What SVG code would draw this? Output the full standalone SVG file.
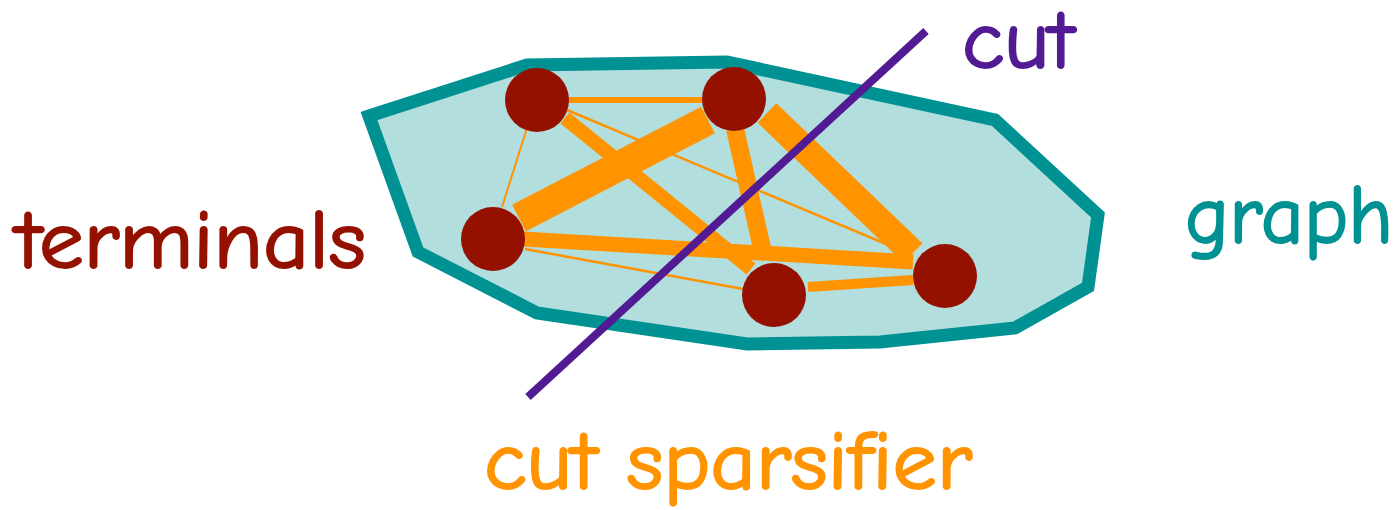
<svg xmlns="http://www.w3.org/2000/svg" width="1398" height="510" viewBox="0 0 1398 510">
<style>
.lbl{font-family:"Comic Sans MS","Comic Neue","Noto Sans",sans-serif;font-size:82px;stroke-width:2;stroke-linejoin:round}
.e{stroke:#ff9300;fill:none;stroke-linecap:butt}
.n{fill:#941100}
</style>
<g id="graph">
<polygon points="369,116 527,65 727,62 995,120 1098,215 1088,287 1015,328 880,342 747,344 537,313 418,252" fill="#b2dedd" stroke="#009193" stroke-width="13" stroke-linejoin="miter"/>
</g>
<g id="connectors">
<line class="e" x1="567" y1="100" x2="703" y2="100" stroke-width="6"/>
<line class="e" x1="527" y1="128" x2="502" y2="207" stroke-width="2"/>
<line class="e" x1="567" y1="110" x2="905" y2="252" stroke-width="2.5"/>
<line class="e" x1="525" y1="249" x2="743" y2="289" stroke-width="2.5"/>
<line class="e" x1="565" y1="118" x2="751" y2="269" stroke-width="14"/>
<line class="e" x1="708" y1="120" x2="519" y2="218" stroke-width="30"/>
<line class="e" x1="735" y1="129" x2="762" y2="248" stroke-width="18"/>
<line class="e" x1="767" y1="113" x2="913" y2="253" stroke-width="27"/>
<line class="e" x1="523" y1="239" x2="913" y2="262" stroke-width="15"/>
<line class="e" x1="808" y1="287" x2="913" y2="280" stroke-width="10"/>
</g>
<g id="n1"><circle class="n" cx="537" cy="100" r="32"/></g>
<g id="n2"><circle class="n" cx="734" cy="99" r="32"/></g>
<g id="n3"><circle class="n" cx="493" cy="239" r="32"/></g>
<g id="n4"><circle class="n" cx="774" cy="295" r="32"/></g>
<g id="n5"><circle class="n" cx="945" cy="276" r="32"/></g>
<g id="cut">
<line x1="926" y1="31" x2="528" y2="397" stroke="#531b93" stroke-width="8"/>
</g>
<g id="labels">
<text class="lbl" x="16" y="268" fill="#941100" stroke="#941100" textLength="350" lengthAdjust="spacingAndGlyphs">terminals</text>
<text class="lbl" x="962" y="68" fill="#531b93" stroke="#531b93" textLength="112" lengthAdjust="spacingAndGlyphs">cut</text>
<text class="lbl" x="1185" y="243" fill="#009193" stroke="#009193" textLength="208" lengthAdjust="spacingAndGlyphs">graph</text>
<text class="lbl" x="484" y="489" fill="#ff9300" stroke="#ff9300" textLength="488" lengthAdjust="spacingAndGlyphs">cut sparsifier</text>
</g>
</svg>
